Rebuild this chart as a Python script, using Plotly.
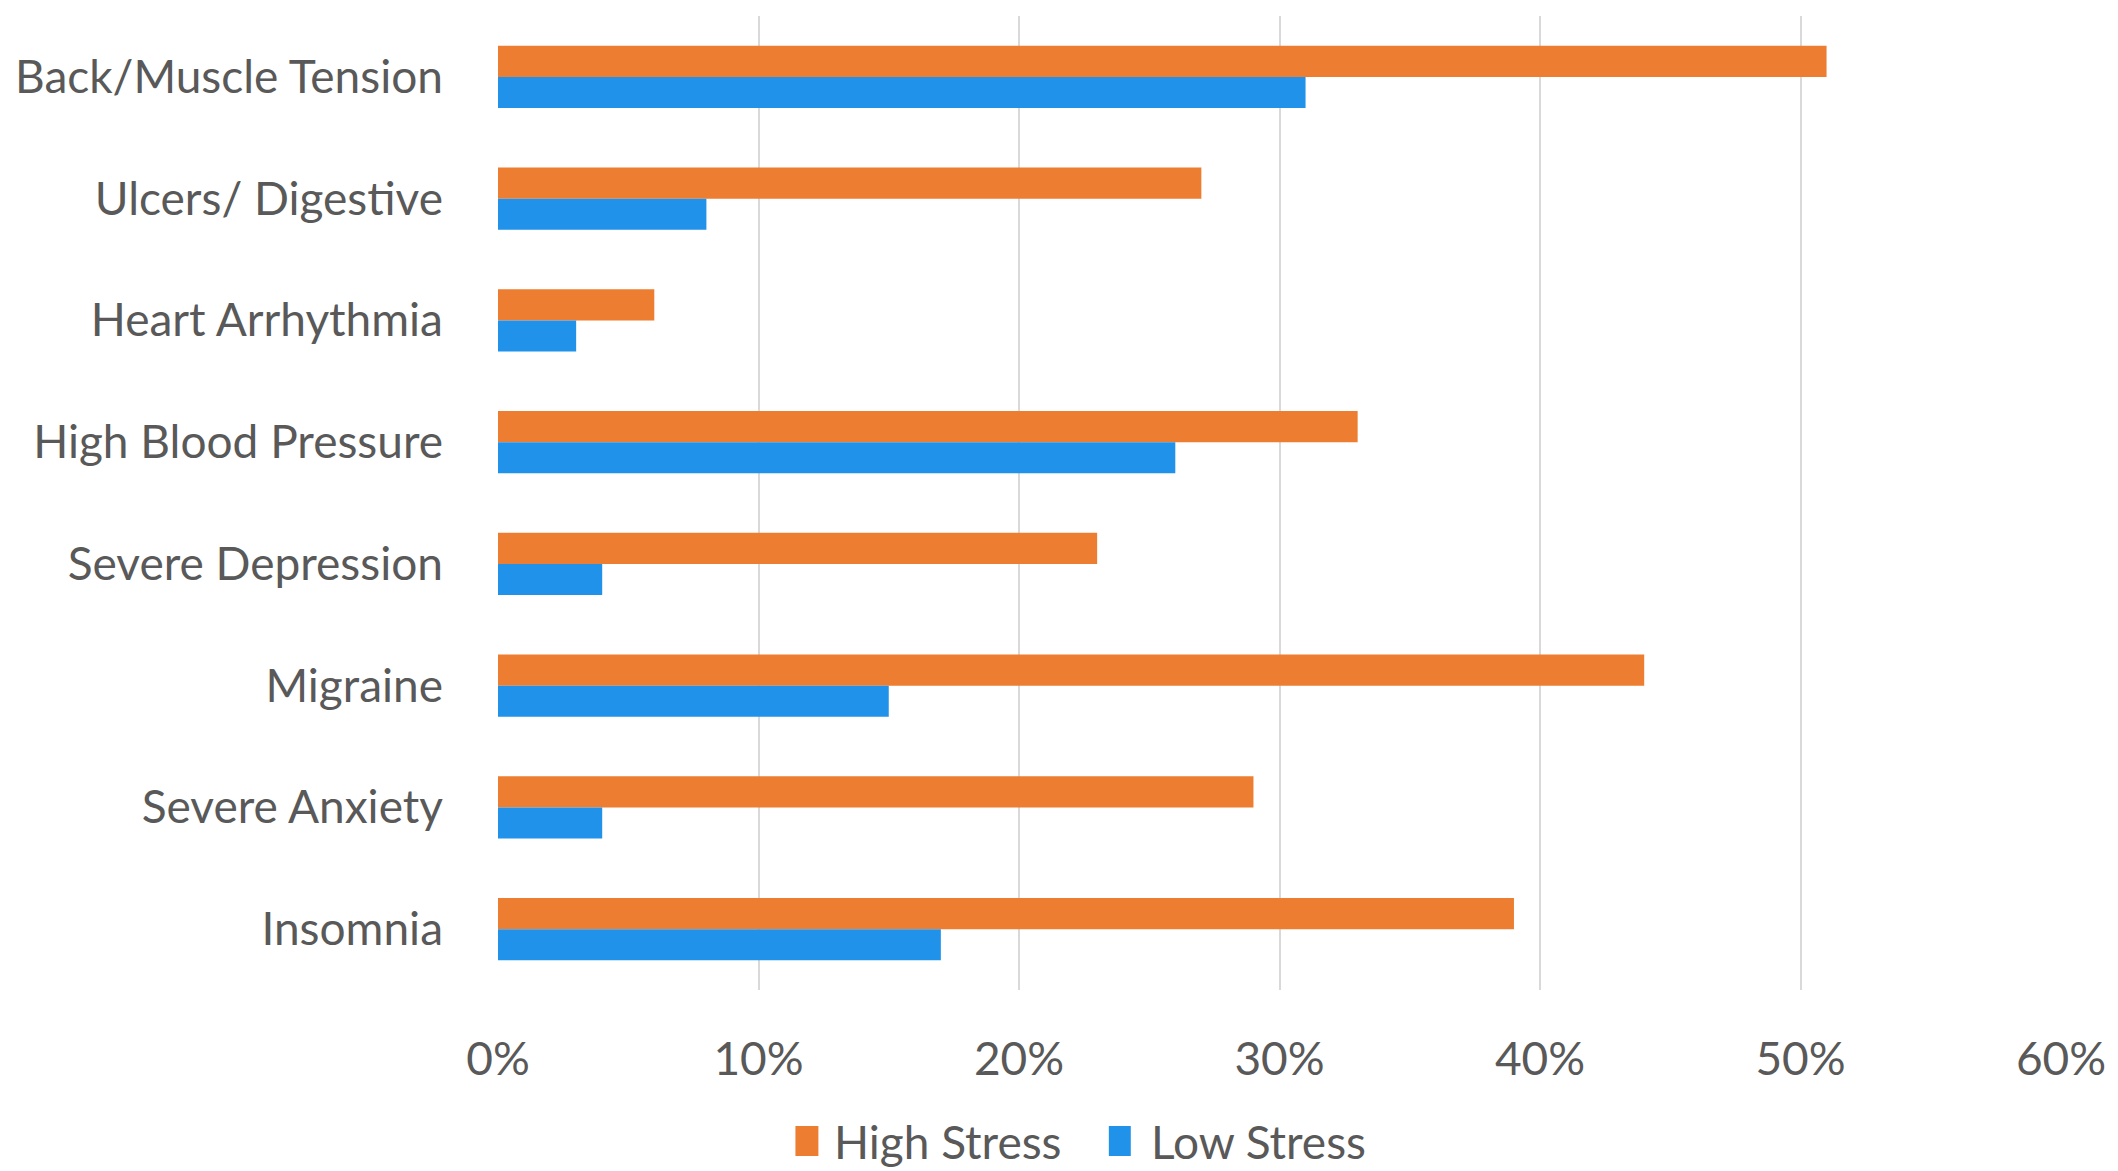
import plotly.graph_objects as go

# Health effects reported by stress level (% of respondents)
categories = [
    "Back/Muscle Tension",
    "Ulcers/ Digestive",
    "Heart Arrhythmia",
    "High Blood Pressure",
    "Severe Depression",
    "Migraine",
    "Severe Anxiety",
    "Insomnia",
]
high_stress = [51, 27, 6, 33, 23, 44, 29, 39]
low_stress = [31, 8, 3, 26, 4, 15, 4, 17]
x_ticks = [0, 10, 20, 30, 40, 50, 60]
x_tick_labels = ["0%", "10%", "20%", "30%", "40%", "50%", "60%"]
series_names = ["High Stress", "Low Stress"]

ORANGE = "#ED7D31"
BLUE = "#2092EA"
TEXT = "#595959"
GRID = "#D9D9D9"
FONT = "Lato"

W, H = 2118, 1171
M_L, M_R, M_T, M_B = 498, 54, 16, 181
PLOT_W = W - M_L - M_R
PLOT_H = H - M_T - M_B


def px_x(px):
    """Pixel column -> paper x."""
    return (px - M_L) / PLOT_W


def px_y(py):
    """Pixel row (from top) -> paper y."""
    return (H - M_B - py) / PLOT_H


fig = go.Figure()
fig.add_trace(go.Bar(name=series_names[0], y=categories, x=high_stress,
                     orientation="h", marker_color=ORANGE, marker_line_width=0))
fig.add_trace(go.Bar(name=series_names[1], y=categories, x=low_stress,
                     orientation="h", marker_color=BLUE, marker_line_width=0))

# Legend below the axis: coloured swatch + label for each series
legend_items = [(series_names[0], ORANGE, 796, 819, 833),
                (series_names[1], BLUE, 1110, 1132, 1150)]
sw_top, sw_bot, text_mid = 1126, 1156, 1141
shapes, annotations = [], []
for name, color, x0, x1, tx in legend_items:
    shapes.append(dict(type="rect", xref="paper", yref="paper",
                       x0=px_x(x0), x1=px_x(x1), y0=px_y(sw_bot), y1=px_y(sw_top),
                       fillcolor=color, line_width=0))
    annotations.append(dict(text=name, xref="paper", yref="paper",
                            x=px_x(tx), y=px_y(text_mid), xanchor="left",
                            yanchor="middle", showarrow=False,
                            font=dict(family=FONT, size=46, color=TEXT)))

fig.update_layout(
    width=W, height=H,
    margin=dict(l=M_L, r=M_R, t=M_T, b=M_B),
    paper_bgcolor="white", plot_bgcolor="white",
    barmode="group", bargap=0.49, bargroupgap=0,
    font=dict(family=FONT, size=46, color=TEXT),
    showlegend=False,
    shapes=shapes, annotations=annotations,
)
fig.update_xaxes(range=[0, 60], tickvals=x_ticks, ticktext=x_tick_labels,
                 showgrid=True, gridcolor=GRID, gridwidth=1.5,
                 zeroline=False, showline=False, ticks="",
                 ticklabelstandoff=38, fixedrange=True)
fig.update_yaxes(autorange="reversed", showgrid=False, zeroline=False,
                 showline=False, ticks="", ticklabelstandoff=54,
                 fixedrange=True)

fig.write_html("out.html")
